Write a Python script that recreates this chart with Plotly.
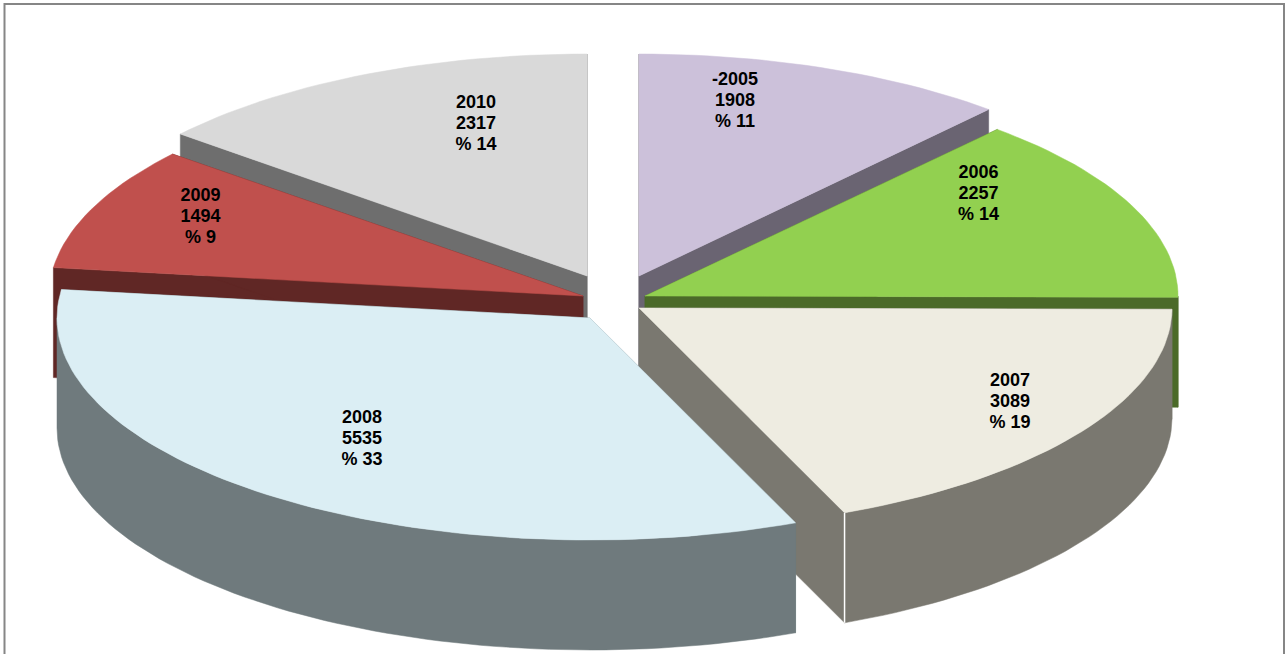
import math
import plotly.graph_objects as go

categories = ["-2005", "2006", "2007", "2008", "2009", "2010"]
values = [1908, 2257, 3089, 5535, 1494, 2317]
percents = [11, 14, 19, 33, 9, 14]

top_colors = ["#CCC1DA", "#92D050", "#EEECE1", "#DBEEF4", "#C0504D", "#D9D9D9"]
side_colors = ["#6A6472", "#4B6A29", "#7A7870", "#6F7A7D", "#602725", "#6E6E6E"]
apex_x = [639, 645, 639, 590, 583, 587]
apex_y = [276, 296, 308, 318, 296, 276]
radius_x = [529, 533, 533, 533, 534, 529]
label_x = [735, 978.5, 1010, 362, 200.5, 476]
label_y = [80, 173, 381, 418, 196, 103]
paint_order = [5, 0, 4, 1, 2, 3]

RY, DEPTH = 222, 110
LINE_GAP = 21
total = sum(values)


def rim(cx, cy, rx, a0, a1, drop=0):
    n = max(2, int(abs(a1 - a0) / 1.5))
    xs, ys = [], []
    for k in range(n + 1):
        t = math.radians(a0 + (a1 - a0) * k / n)
        xs.append(cx + rx * math.sin(t))
        ys.append(cy - RY * math.cos(t) + drop)
    return xs, ys


def poly(fig, xs, ys, color):
    fig.add_trace(go.Scatter(x=xs + xs[:1], y=ys + ys[:1], mode="lines", fill="toself",
                             fillcolor=color, line=dict(color=color, width=0.5),
                             hoverinfo="skip", showlegend=False))


starts = []
acc = 0
for v in values:
    starts.append(acc / total * 360)
    acc += v

fig = go.Figure()
for i in paint_order:
    a0 = starts[i]
    a1 = a0 + values[i] / total * 360
    cx, cy, rx = apex_x[i], apex_y[i], radius_x[i]
    side = side_colors[i]
    # radial cut faces
    for a in (a0, a1):
        t = math.radians(a)
        ex, ey = cx + rx * math.sin(t), cy - RY * math.cos(t)
        poly(fig, [cx, ex, ex, cx], [cy, ey, ey + DEPTH, cy + DEPTH], side)
    # outer wall (front-facing part only)
    b0, b1 = max(a0, 90), min(a1, 270)
    if b1 > b0:
        tx, ty = rim(cx, cy, rx, b0, b1)
        bx, by = rim(cx, cy, rx, b1, b0, DEPTH)
        poly(fig, tx + bx, ty + by, side)
    # top face
    tx, ty = rim(cx, cy, rx, a0, a1)
    poly(fig, [cx] + tx, [cy] + ty, top_colors[i])
    # highlight on the corner of the 2007 slice
    if categories[i] == "2007":
        t = math.radians(a1)
        ex, ey = cx + rx * math.sin(t), cy - RY * math.cos(t)
        fig.add_trace(go.Scatter(x=[ex, ex], y=[ey, ey + DEPTH], mode="lines",
                                 line=dict(color="white", width=1.5),
                                 hoverinfo="skip", showlegend=False))

# slice labels
tx, ty, tt = [], [], []
for i, c in enumerate(categories):
    for j, s in enumerate([c, str(values[i]), f"% {percents[i]}"]):
        tx.append(label_x[i])
        ty.append(label_y[i] + j * LINE_GAP)
        tt.append(s)
fig.add_trace(go.Scatter(x=tx, y=ty, text=tt, mode="text", textposition="middle center",
                         textfont=dict(family="Liberation Sans", size=18, color="black", weight="bold"),
                         hoverinfo="skip", showlegend=False))

# chart frame
fig.add_shape(type="path", path="M 4.5 660 L 4.5 4 L 1284 4 L 1284 660",
              line=dict(color="#868686", width=2), xref="x", yref="y")

fig.update_layout(width=1288, height=654, margin=dict(l=0, r=0, t=0, b=0),
                  paper_bgcolor="white", plot_bgcolor="white", showlegend=False,
                  xaxis=dict(range=[0, 1288], visible=False, fixedrange=True),
                  yaxis=dict(range=[654, 0], visible=False, fixedrange=True))
fig.write_html("out.html", config={"displayModeBar": False},
               post_script="document.body.style.margin='0';document.body.style.overflow='hidden';")
